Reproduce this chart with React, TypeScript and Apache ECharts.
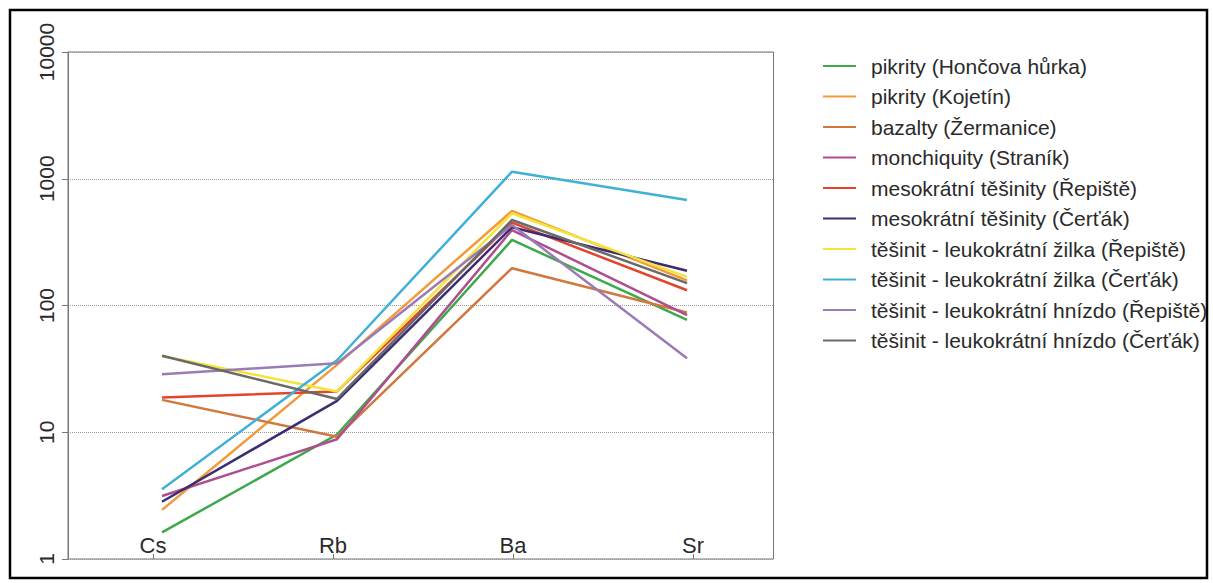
import React, { useEffect, useRef } from "react";
import * as echarts from "echarts";

const categories = ["Cs", "Rb", "Ba", "Sr"];

const seriesNames = [
  "pikrity (Hončova hůrka)",
  "pikrity (Kojetín)",
  "bazalty (Žermanice)",
  "monchiquity (Straník)",
  "mesokrátní těšinity (Řepiště)",
  "mesokrátní těšinity (Čerťák)",
  "těšinit - leukokrátní žilka (Řepiště)",
  "těšinit - leukokrátní žilka (Čerťák)",
  "těšinit - leukokrátní hnízdo (Řepiště)",
  "těšinit - leukokrátní hnízdo (Čerťák)",
];

const honcovaHurka = [1.62, 9.6, 329, 77];
const kojetin = [2.44, 34, 557, 158];
const zermanice = [18, 9.2, 197, 88];
const stranik = [3.14, 8.8, 394, 84];
const mesoRepiste = [18.8, 21, 450, 132];
const mesoCertak = [2.83, 17.7, 414, 188];
const zilkaRepiste = [40, 21, 534, 168];
const zilkaCertak = [3.55, 37, 1137, 680];
const hnizdoRepiste = [28.7, 35, 432, 38.3];
const hnizdoCertak = [40.2, 18.3, 473, 150];

const seriesValues = [
  honcovaHurka,
  kojetin,
  zermanice,
  stranik,
  mesoRepiste,
  mesoCertak,
  zilkaRepiste,
  zilkaCertak,
  hnizdoRepiste,
  hnizdoCertak,
];

const colors = [
  "#3da94b",
  "#f29a3c",
  "#d0783e",
  "#b04d8e",
  "#e2452c",
  "#3c2c70",
  "#f4e43a",
  "#40b1d6",
  "#9b7bb5",
  "#6a6a6a",
];

const FONT = "Liberation Sans, Arial, Helvetica, sans-serif";

export default function App() {
  const ref = useRef<HTMLDivElement>(null);
  useEffect(() => {
    if (!ref.current) return;
    const chart = echarts.init(ref.current, null, { renderer: "svg" });
    const logAxisBase = { type: "log" as const, logBase: 10, min: 1, max: 10000 };
    const gridPos = { top: 52, height: 507 };
    chart.setOption({
      animation: false,
      backgroundColor: "#fff",
      grid: [
        {
          left: 68,
          width: 705.5,
          ...gridPos,
          show: true,
          borderColor: "#777",
          borderWidth: 1,
          backgroundColor: "transparent",
        },
        { left: 153, width: 540, ...gridPos },
        { left: 162, width: 525, ...gridPos },
      ],
      xAxis: [
        { type: "value", gridIndex: 0, show: false, min: 0, max: 1 },
        {
          type: "category",
          gridIndex: 1,
          data: categories,
          boundaryGap: false,
          axisLine: { show: false },
          axisTick: { show: true, inside: true, length: 5, lineStyle: { color: "#777" } },
          axisLabel: {
            inside: true,
            margin: 3,
            fontSize: 22,
            color: "#2a2a2a",
            fontFamily: FONT,
          },
          splitLine: { show: false },
        },
        {
          type: "category",
          gridIndex: 2,
          data: categories,
          boundaryGap: false,
          show: false,
        },
      ],
      yAxis: [
        {
          ...logAxisBase,
          gridIndex: 0,
          axisLine: { show: true, lineStyle: { color: "#777" } },
          axisTick: { show: true, length: 6, lineStyle: { color: "#777" } },
          axisLabel: {
            rotate: 90,
            fontSize: 21,
            color: "#2a2a2a",
            fontFamily: FONT,
            margin: 11,
            formatter: (v: number) => String(Math.round(v)),
          },
          splitLine: { show: true, lineStyle: { type: "dotted", color: "#999", width: 1 } },
          minorTick: { show: false },
        },
        { ...logAxisBase, gridIndex: 1, show: false, splitLine: { show: false } },
        { ...logAxisBase, gridIndex: 2, show: false, splitLine: { show: false } },
      ],
      legend: {
        orient: "vertical",
        left: 818,
        top: 49,
        icon: "rect",
        itemWidth: 33,
        itemHeight: 2,
        itemGap: 6.5,
        data: seriesNames,
        textStyle: {
          fontSize: 21,
          lineHeight: 24,
          color: "#2a2a2a",
          fontFamily: FONT,
          padding: [0, 0, 0, 10],
        },
      },
      graphic: [
        {
          type: "rect",
          shape: { x: 10, y: 10, width: 1197, height: 568 },
          style: { fill: "none", stroke: "#000", lineWidth: 2.5 },
          silent: true,
        },
      ],
      series: seriesNames.map((name, i) => ({
        name,
        type: "line",
        xAxisIndex: 2,
        yAxisIndex: 2,
        data: seriesValues[i],
        symbol: "none",
        color: colors[i],
        lineStyle: { width: 2.5, color: colors[i] },
      })),
    });
    return () => chart.dispose();
  }, []);
  return (
    <div
      ref={ref}
      style={{ position: "absolute", left: 0, top: 0, width: 1213, height: 583 }}
    />
  );
}
